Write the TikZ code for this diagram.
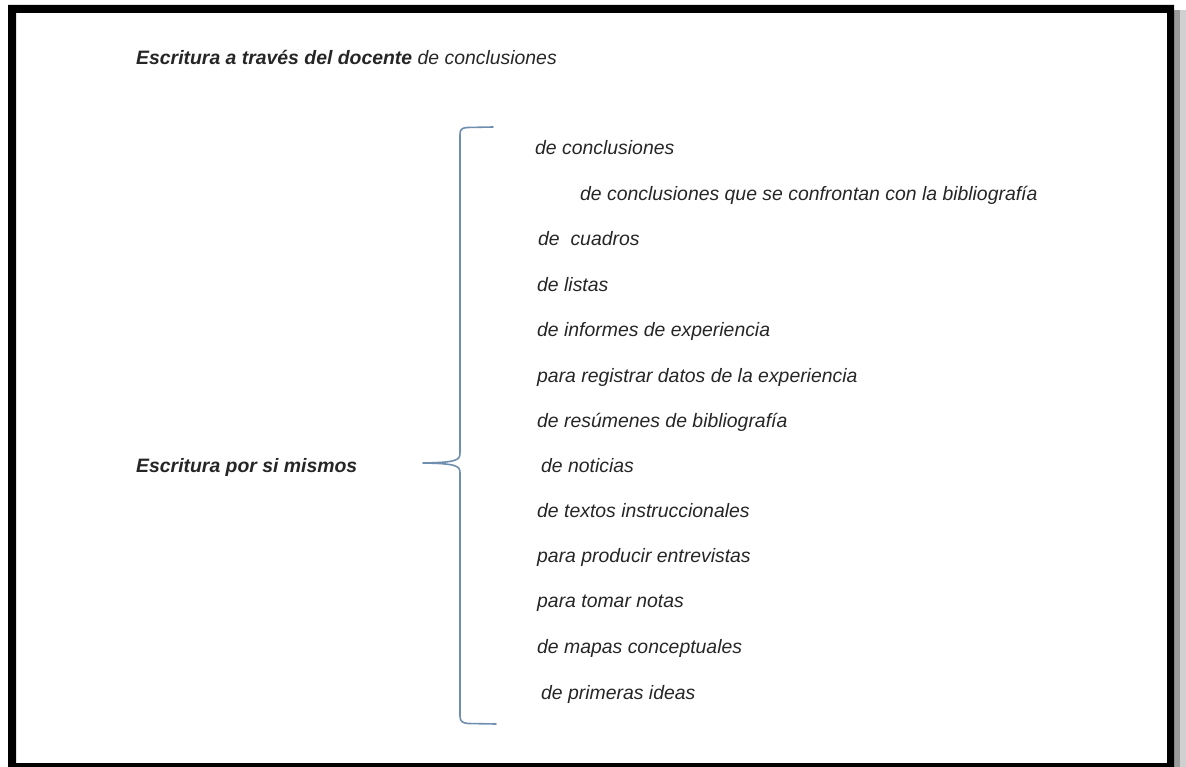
\documentclass[tikz,border=0pt]{standalone}
\usepackage{fontspec}
\setmainfont{Liberation Sans}
\definecolor{txt}{HTML}{262626}
\definecolor{bracec}{HTML}{6F8FB0}
\definecolor{shadowA}{HTML}{9A9A9A}
\definecolor{shadowB}{HTML}{D0D0D0}
\begin{document}
\begin{tikzpicture}[x=1pt,y=-1pt,
  item/.style={anchor=base west,inner sep=0pt,text=txt,font=\fontsize{19.4}{23}\selectfont\itshape},
  head/.style={anchor=base west,inner sep=0pt,text=txt,font=\fontsize{19.4}{23}\selectfont\bfseries\itshape},
  bracestyle/.style={draw=bracec,line width=1.6pt,line cap=round,line join=round}]
\useasboundingbox (0,0) rectangle (1186,767);
\fill[white] (0,0) rectangle (1186,767);
% shadow
\fill[shadowA] (1174,10) rectangle (1180,767);
\fill[shadowB] (1180,10) rectangle (1186,767);
% frame
\fill[black,even odd rule] (8,5) rectangle (1174,772) (16,13) rectangle (1167,763);
% header
\node[head] (h1) at (136,65) {Escritura a través del docente \mdseries de conclusiones};
\node[head] (h2) at (136,472) {Escritura por si mismos};
% items
\node[item] (i1) at (535,155) {de conclusiones};
\node[item] (i2) at (580,200.4) {de conclusiones que se confrontan con la bibliografía};
\node[item] (i3) at (538,245.8) {de\ \ cuadros};
\node[item] (i4) at (537,291.2) {de listas};
\node[item] (i5) at (537,336.6) {de informes de experiencia};
\node[item] (i6) at (537,382) {para registrar datos de la experiencia};
\node[item] (i7) at (537,427.4) {de resúmenes de bibliografía};
\node[item] (i8) at (541,472.8) {de noticias};
\node[item] (i9) at (537,517) {de textos instruccionales};
\node[item] (i10) at (537,562) {para producir entrevistas};
\node[item] (i11) at (537,607) {para tomar notas};
\node[item] (i12) at (537,653) {de mapas conceptuales};
\node[item] (i13) at (541,699) {de primeras ideas};
% brace
\coordinate (btop) at (493,127);
\coordinate (btip) at (423,463);
\coordinate (bbot) at (496,724);
\draw[bracestyle] (btop) -- (467,127.5) .. controls (461,128) and (460,130) .. (460,135)
  -- (460,453) .. controls (460,460) and (457,462.5) .. (btip)
  .. controls (457,463.5) and (460,466) .. (460,473)
  -- (460,716) .. controls (460,721) and (462,723) .. (468,723.5) -- (bbot);
\end{tikzpicture}
\end{document}
